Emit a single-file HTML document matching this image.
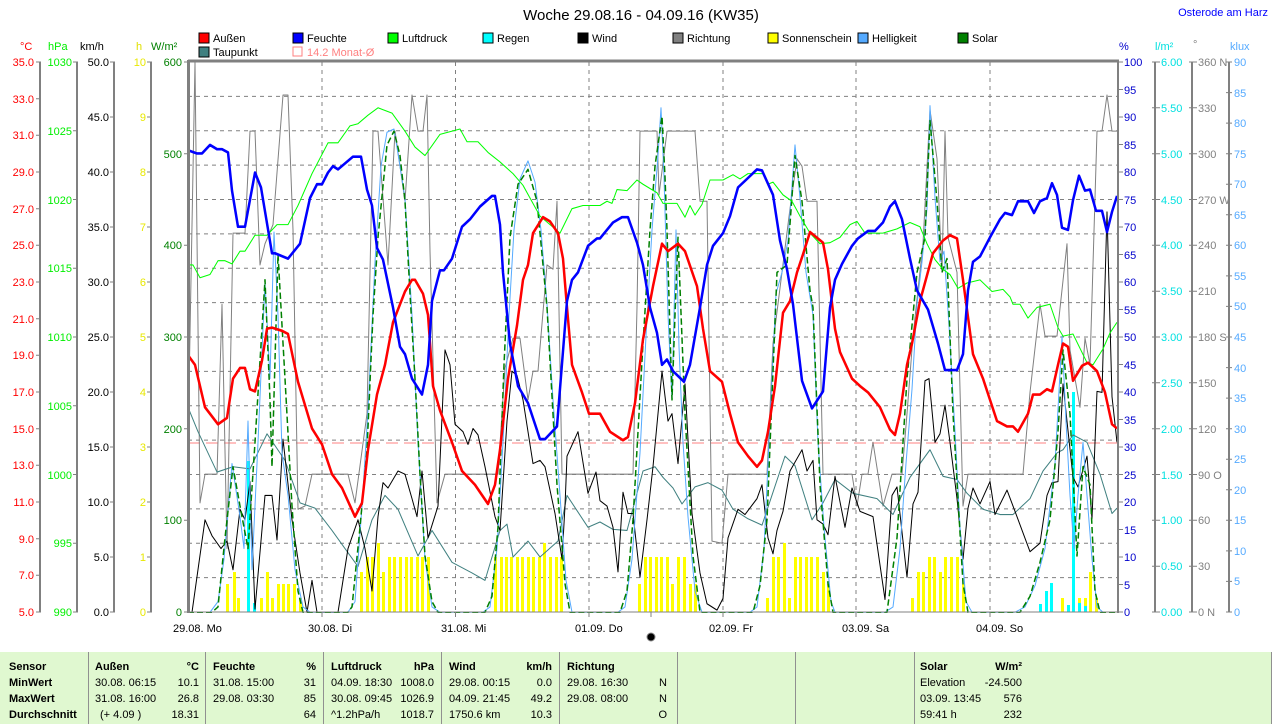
<!DOCTYPE html>
<html><head><meta charset="utf-8"><style>
html,body{margin:0;padding:0;background:#fff;}
svg{display:block;font-family:"Liberation Sans",sans-serif;}
</style></head><body>
<svg width="1274" height="724" viewBox="0 0 1274 724" xmlns="http://www.w3.org/2000/svg">
<defs><clipPath id="pc"><rect x="188" y="62" width="930" height="551"/></clipPath></defs>
<rect width="1274" height="724" fill="#fff"/>
<text x="641" y="20" font-size="15" text-anchor="middle" fill="#000">Woche 29.08.16 - 04.09.16 (KW35)</text>
<text x="1268" y="16" font-size="11" text-anchor="end" fill="#0000ff">Osterode am Harz</text>

<g font-size="11" fill="#000">
<rect x="199" y="33" width="10" height="10" fill="#ff0000" stroke="#000"/><text x="213" y="42">Außen</text>
<rect x="293" y="33" width="10" height="10" fill="#0000ff" stroke="#000"/><text x="307" y="42">Feuchte</text>
<rect x="388" y="33" width="10" height="10" fill="#00ff00" stroke="#000"/><text x="402" y="42">Luftdruck</text>
<rect x="483" y="33" width="10" height="10" fill="#00ffff" stroke="#000"/><text x="497" y="42">Regen</text>
<rect x="578" y="33" width="10" height="10" fill="#000" stroke="#000"/><text x="592" y="42">Wind</text>
<rect x="673" y="33" width="10" height="10" fill="#808080" stroke="#000"/><text x="687" y="42">Richtung</text>
<rect x="768" y="33" width="10" height="10" fill="#ffff00" stroke="#000"/><text x="782" y="42">Sonnenschein</text>
<rect x="858" y="33" width="10" height="10" fill="#55aaff" stroke="#000"/><text x="872" y="42">Helligkeit</text>
<rect x="958" y="33" width="10" height="10" fill="#008000" stroke="#000"/><text x="972" y="42">Solar</text>
<rect x="199" y="47" width="10" height="10" fill="#408080" stroke="#000"/><text x="213" y="56">Taupunkt</text>
<rect x="293" y="47" width="9" height="9" fill="none" stroke="#ff8080"/><text x="307" y="56" fill="#ff8080">14.2 Monat-Ø</text>
</g>

<g font-size="11">
<text x="20" y="50" fill="#ff0000">°C</text>
<text x="48" y="50" fill="#00ee00">hPa</text>
<text x="80" y="50" fill="#000">km/h</text>
<text x="136" y="50" fill="#e0e000">h</text>
<text x="151" y="50" fill="#008000">W/m²</text>
<text x="1119" y="50" fill="#0000cc">%</text>
<text x="1155" y="50" fill="#00e0e0">l/m²</text>
<text x="1193" y="48" fill="#808080">°</text>
<text x="1230" y="50" fill="#55aaff">klux</text>
</g>

<g stroke="#808080" stroke-width="2">
<line x1="40" y1="62" x2="40" y2="612"/>
<line x1="77" y1="62" x2="77" y2="612"/>
<line x1="114" y1="62" x2="114" y2="612"/>
<line x1="151" y1="62" x2="151" y2="612"/>
<line x1="1155" y1="62" x2="1155" y2="612"/>
<line x1="1192" y1="62" x2="1192" y2="612"/>
<line x1="1229" y1="62" x2="1229" y2="612"/>
</g>

<g font-size="11" fill="#ff0000" text-anchor="end">
<text x="34" y="66">35.0</text><text x="34" y="103">33.0</text><text x="34" y="139">31.0</text><text x="34" y="176">29.0</text><text x="34" y="213">27.0</text><text x="34" y="249">25.0</text><text x="34" y="286">23.0</text><text x="34" y="323">21.0</text><text x="34" y="359">19.0</text><text x="34" y="396">17.0</text><text x="34" y="433">15.0</text><text x="34" y="469">13.0</text><text x="34" y="506">11.0</text><text x="34" y="543">9.0</text><text x="34" y="579">7.0</text><text x="34" y="616">5.0</text>
</g>
<g stroke="#808080" stroke-width="1">
<path d="M36 62H41M36 98.7H41M36 135.3H41M36 172H41M36 208.7H41M36 245.3H41M36 282H41M36 318.7H41M36 355.3H41M36 392H41M36 428.7H41M36 465.3H41M36 502H41M36 538.7H41M36 575.3H41M36 612H41"/>
<path d="M73 62H78M73 130.75H78M73 199.5H78M73 268.25H78M73 337H78M73 405.75H78M73 474.5H78M73 543.25H78M73 612H78"/>
<path d="M110 62H115M110 117H115M110 172H115M110 227H115M110 282H115M110 337H115M110 392H115M110 447H115M110 502H115M110 557H115M110 612H115"/>
<path d="M147 62H152M147 117H152M147 172H152M147 227H152M147 282H152M147 337H152M147 392H152M147 447H152M147 502H152M147 557H152M147 612H152"/>
<path d="M184 62H189M184 153.7H189M184 245.3H189M184 337H189M184 428.7H189M184 520.3H189M184 612H189"/>
<path d="M1118 62h5M1118 89.5h5M1118 117h5M1118 144.5h5M1118 172h5M1118 199.5h5M1118 227h5M1118 254.5h5M1118 282h5M1118 309.5h5M1118 337h5M1118 364.5h5M1118 392h5M1118 419.5h5M1118 447h5M1118 474.5h5M1118 502h5M1118 529.5h5M1118 557h5M1118 584.5h5M1118 612h5"/>
<path d="M1152 62h8M1152 107.8h8M1152 153.7h8M1152 199.5h8M1152 245.3h8M1152 291.2h8M1152 337h8M1152 382.8h8M1152 428.7h8M1152 474.5h8M1152 520.3h8M1152 566.2h8M1152 612h8"/>
<path d="M1189 62h8M1189 107.8h8M1189 153.7h8M1189 199.5h8M1189 245.3h8M1189 291.2h8M1189 337h8M1189 382.8h8M1189 428.7h8M1189 474.5h8M1189 520.3h8M1189 566.2h8M1189 612h8"/>
<path d="M1226 62h6M1226 92.6h6M1226 123.1h6M1226 153.7h6M1226 184.2h6M1226 214.8h6M1226 245.3h6M1226 275.9h6M1226 306.4h6M1226 337h6M1226 367.6h6M1226 398.1h6M1226 428.7h6M1226 459.2h6M1226 489.8h6M1226 520.3h6M1226 550.9h6M1226 581.4h6M1226 612h6"/>
</g>
<g font-size="11" fill="#00ee00" text-anchor="end">
<text x="72" y="66">1030</text><text x="72" y="135">1025</text><text x="72" y="204">1020</text><text x="72" y="272">1015</text><text x="72" y="341">1010</text><text x="72" y="410">1005</text><text x="72" y="479">1000</text><text x="72" y="547">995</text><text x="72" y="616">990</text>
</g>
<g font-size="11" fill="#000" text-anchor="end">
<text x="109" y="66">50.0</text><text x="109" y="121">45.0</text><text x="109" y="176">40.0</text><text x="109" y="231">35.0</text><text x="109" y="286">30.0</text><text x="109" y="341">25.0</text><text x="109" y="396">20.0</text><text x="109" y="451">15.0</text><text x="109" y="506">10.0</text><text x="109" y="561">5.0</text><text x="109" y="616">0.0</text>
</g>
<g font-size="11" fill="#e8e800" text-anchor="end">
<text x="146" y="66">10</text><text x="146" y="121">9</text><text x="146" y="176">8</text><text x="146" y="231">7</text><text x="146" y="286">6</text><text x="146" y="341">5</text><text x="146" y="396">4</text><text x="146" y="451">3</text><text x="146" y="506">2</text><text x="146" y="561">1</text><text x="146" y="616">0</text>
</g>
<g font-size="11" fill="#008000" text-anchor="end">
<text x="182" y="66">600</text><text x="182" y="158">500</text><text x="182" y="249">400</text><text x="182" y="341">300</text><text x="182" y="433">200</text><text x="182" y="524">100</text><text x="182" y="616">0</text>
</g>
<g font-size="11" fill="#0000cc">
<text x="1124" y="66">100</text><text x="1124" y="94">95</text><text x="1124" y="121">90</text><text x="1124" y="149">85</text><text x="1124" y="176">80</text><text x="1124" y="204">75</text><text x="1124" y="231">70</text><text x="1124" y="259">65</text><text x="1124" y="286">60</text><text x="1124" y="314">55</text><text x="1124" y="341">50</text><text x="1124" y="369">45</text><text x="1124" y="396">40</text><text x="1124" y="424">35</text><text x="1124" y="451">30</text><text x="1124" y="479">25</text><text x="1124" y="506">20</text><text x="1124" y="534">15</text><text x="1124" y="561">10</text><text x="1124" y="589">5</text><text x="1124" y="616">0</text>
</g>
<g font-size="11" fill="#00e0e0">
<text x="1161" y="66">6.00</text><text x="1161" y="112">5.50</text><text x="1161" y="158">5.00</text><text x="1161" y="204">4.50</text><text x="1161" y="249">4.00</text><text x="1161" y="295">3.50</text><text x="1161" y="341">3.00</text><text x="1161" y="387">2.50</text><text x="1161" y="433">2.00</text><text x="1161" y="479">1.50</text><text x="1161" y="524">1.00</text><text x="1161" y="570">0.50</text><text x="1161" y="616">0.00</text>
</g>
<g font-size="11" fill="#808080">
<text x="1198" y="66">360 N</text><text x="1198" y="112">330</text><text x="1198" y="158">300</text><text x="1198" y="204">270 W</text><text x="1198" y="249">240</text><text x="1198" y="295">210</text><text x="1198" y="341">180 S</text><text x="1198" y="387">150</text><text x="1198" y="433">120</text><text x="1198" y="479">90 O</text><text x="1198" y="524">60</text><text x="1198" y="570">30</text><text x="1198" y="616">0 N</text>
</g>
<g font-size="11" fill="#55aaff">
<text x="1234" y="66">90</text><text x="1234" y="97">85</text><text x="1234" y="127">80</text><text x="1234" y="158">75</text><text x="1234" y="188">70</text><text x="1234" y="219">65</text><text x="1234" y="249">60</text><text x="1234" y="280">55</text><text x="1234" y="310">50</text><text x="1234" y="341">45</text><text x="1234" y="372">40</text><text x="1234" y="402">35</text><text x="1234" y="433">30</text><text x="1234" y="463">25</text><text x="1234" y="494">20</text><text x="1234" y="524">15</text><text x="1234" y="555">10</text><text x="1234" y="585">5</text><text x="1234" y="616">0</text>
</g>

<g stroke="#808080" stroke-width="1" stroke-dasharray="4,4">
<path d="M188 96.4H1118M188 130.75H1118M188 165.1H1118M188 199.5H1118M188 233.9H1118M188 268.25H1118M188 302.6H1118M188 337H1118M188 371.4H1118M188 405.75H1118M188 440.1H1118M188 474.5H1118M188 508.9H1118M188 543.25H1118M188 577.6H1118"/>
<path d="M322 62V612M455.5 62V612M589 62V612M723 62V612M856 62V612M990 62V612"/>
</g>
<line x1="188" y1="443" x2="1118" y2="443" stroke="#ff8080" stroke-width="1" stroke-dasharray="12,6"/>

<g fill="#ffff00">
<rect x="226" y="584" width="3" height="28"/><rect x="233" y="572" width="3" height="40"/><rect x="237" y="598" width="3" height="14"/><rect x="260" y="598" width="3" height="14"/><rect x="266" y="572" width="3" height="40"/><rect x="271" y="598" width="3" height="14"/><rect x="277" y="584" width="3" height="28"/><rect x="282" y="584" width="3" height="28"/><rect x="287" y="584" width="3" height="28"/><rect x="293" y="584" width="3" height="28"/><rect x="299" y="598" width="3" height="14"/>
<rect x="360" y="572" width="3" height="40"/><rect x="366" y="557" width="3" height="55"/><rect x="371" y="557" width="3" height="55"/><rect x="377" y="543" width="3" height="69"/><rect x="382" y="572" width="3" height="40"/><rect x="388" y="557" width="3" height="55"/><rect x="393" y="557" width="3" height="55"/><rect x="399" y="557" width="3" height="55"/><rect x="405" y="557" width="3" height="55"/><rect x="410" y="557" width="3" height="55"/><rect x="416" y="557" width="3" height="55"/><rect x="421" y="557" width="3" height="55"/><rect x="427" y="557" width="3" height="55"/>
<rect x="494" y="557" width="3" height="55"/><rect x="500" y="557" width="3" height="55"/><rect x="505" y="557" width="3" height="55"/><rect x="510" y="557" width="3" height="55"/><rect x="516" y="557" width="3" height="55"/><rect x="521" y="557" width="3" height="55"/><rect x="527" y="557" width="3" height="55"/><rect x="532" y="557" width="3" height="55"/><rect x="538" y="557" width="3" height="55"/><rect x="543" y="543" width="3" height="69"/><rect x="549" y="557" width="3" height="55"/><rect x="555" y="557" width="3" height="55"/><rect x="560" y="557" width="3" height="55"/>
<rect x="638" y="584" width="3" height="28"/><rect x="644" y="557" width="3" height="55"/><rect x="649" y="557" width="3" height="55"/><rect x="655" y="557" width="3" height="55"/><rect x="660" y="557" width="3" height="55"/><rect x="666" y="557" width="3" height="55"/><rect x="671" y="584" width="3" height="28"/><rect x="677" y="557" width="3" height="55"/><rect x="683" y="557" width="3" height="55"/><rect x="689" y="584" width="3" height="28"/><rect x="694" y="584" width="3" height="28"/>
<rect x="766" y="598" width="3" height="14"/><rect x="772" y="557" width="3" height="55"/><rect x="777" y="557" width="3" height="55"/><rect x="783" y="543" width="3" height="69"/><rect x="788" y="598" width="3" height="14"/><rect x="794" y="557" width="3" height="55"/><rect x="799" y="557" width="3" height="55"/><rect x="805" y="557" width="3" height="55"/><rect x="810" y="557" width="3" height="55"/><rect x="816" y="557" width="3" height="55"/><rect x="822" y="572" width="3" height="40"/><rect x="827" y="584" width="3" height="28"/>
<rect x="911" y="598" width="3" height="14"/><rect x="917" y="572" width="3" height="40"/><rect x="922" y="572" width="3" height="40"/><rect x="928" y="557" width="3" height="55"/><rect x="933" y="557" width="3" height="55"/><rect x="939" y="572" width="3" height="40"/><rect x="944" y="557" width="3" height="55"/><rect x="950" y="557" width="3" height="55"/><rect x="956" y="557" width="3" height="55"/><rect x="962" y="584" width="3" height="28"/>
<rect x="1061" y="598" width="3" height="14"/><rect x="1078" y="598" width="3" height="14"/><rect x="1084" y="598" width="3" height="14"/><rect x="1089" y="572" width="3" height="40"/><rect x="1095" y="598" width="3" height="14"/>
</g>
<g fill="#00ffff">
<rect x="247" y="461" width="3" height="151"/><rect x="253" y="603" width="3" height="9"/>
<rect x="1039" y="604" width="3" height="8"/><rect x="1045" y="591" width="3" height="21"/><rect x="1050" y="583" width="3" height="29"/><rect x="1067" y="605" width="3" height="7"/><rect x="1072" y="392" width="3" height="220"/><rect x="1078" y="603" width="3" height="9"/><rect x="1084" y="606" width="3" height="6"/>
</g>

<g clip-path="url(#pc)">
<g fill="none" stroke-linejoin="round" transform="matrix(1 0 0 1.062 0 -3.72)">
<polyline stroke="#808080" stroke-width="1" points="188,420 195,62 200,477 205,450 217,450 222,290 227,520 233,223 245,223 250,127 255,127 260,253 265,233 273,215 283,93 288,93 293,220 298,483 305,480 312,450 338,450 348,450 355,477 367,393 373,127 378,127 388,253 395,127 405,193 412,93 418,127 423,127 427,93 430,240 437,477 445,450 498,450 505,350 513,322 520,322 528,380 533,353 538,353 547,253 553,257 557,193 562,450 633,450 637,293 640,127 657,127 659,187 667,127 695,127 700,193 707,193 712,513 722,515 728,450 767,450 773,327 790,200 797,153 802,160 807,193 817,193 823,450 852,450 857,480 862,450 868,450 873,420 883,480 892,450 902,450 907,393 913,320 923,233 930,107 937,153 942,260 945,127 948,227 957,260 963,480 968,450 1023,450 1030,373 1040,290 1045,320 1057,320 1067,233 1070,333 1080,387 1085,322 1090,347 1097,127 1102,127 1107,93 1112,127 1117,127"/>
<polyline stroke="#408080" stroke-width="1" points="188,387 198,410 217,448 233,443 250,445 267,412 285,437 300,477 315,482 332,503 345,520 358,537 372,493 385,470 398,483 418,527 432,503 452,533 472,543 485,550 500,503 507,497 513,528 528,513 540,528 558,513 567,470 588,500 600,495 613,502 627,503 643,447 655,443 663,453 673,463 682,478 695,462 708,458 722,465 733,483 748,492 762,498 773,467 785,433 795,442 812,493 823,477 835,455 853,468 877,473 893,488 910,453 930,427 943,452 957,455 967,468 983,483 1000,488 1013,488 1030,473 1043,447 1057,430 1063,427 1073,413 1087,420 1100,450 1112,487 1117,482"/>
<polyline stroke="#000" stroke-width="1" points="188,580 192,580 205,493 212,508 221,520 227,513 233,540 240,483 245,493 250,457 255,577 265,470 272,470 277,512 283,417 292,493 300,543 307,580 312,550 317,580 338,580 348,520 358,493 365,520 372,560 378,490 383,458 388,463 398,447 405,450 412,473 417,490 422,447 428,510 438,480 445,333 450,347 455,403 463,410 468,422 473,407 478,413 485,443 495,490 500,503 507,400 512,353 517,357 523,380 533,440 540,437 545,443 555,487 562,530 565,480 567,433 578,410 588,468 596,448 600,475 607,480 613,500 618,542 623,467 628,487 633,487 640,547 647,493 653,443 662,353 668,400 672,393 678,440 685,365 692,487 700,543 707,572 717,578 723,567 728,510 738,483 745,488 757,473 762,460 768,510 773,525 777,503 783,485 790,447 802,427 807,447 813,437 817,493 823,497 828,507 835,452 845,500 852,463 860,485 873,490 885,568 892,470 897,462 907,547 913,478 918,467 925,362 929,360 935,420 940,412 945,385 950,420 957,473 963,530 968,482 973,463 980,478 990,457 995,488 1007,465 1017,490 1030,523 1040,515 1047,470 1052,458 1058,457 1063,365 1073,453 1078,462 1087,433 1092,492 1097,372 1102,373 1107,203 1112,377 1117,420"/>
<polyline stroke="#55aaff" stroke-width="1" points="210,580 218,570 224,530 232,440 240,490 244,520 248,400 252,540 258,420 265,270 270,360 274,222 278,300 282,430 288,470 295,540 303,575 310,580 348,580 355,570 362,480 368,390 375,250 381,160 387,128 394,125 400,160 405,190 412,300 418,420 425,530 432,575 440,580 483,580 490,575 497,520 503,420 509,300 514,220 520,172 528,155 535,175 541,220 547,290 553,380 560,470 566,550 572,580 618,580 625,575 632,530 640,430 646,320 652,220 658,150 661,105 664,170 668,300 672,380 676,220 679,330 683,420 688,490 695,560 702,580 750,580 757,575 764,520 770,400 776,280 782,260 788,230 795,140 800,190 806,260 813,300 818,420 824,500 831,570 835,580 885,580 893,575 900,520 906,440 912,370 917,290 922,250 927,200 930,103 935,190 940,250 944,240 949,310 955,410 960,500 966,570 972,580 1015,580 1025,575 1035,555 1045,520 1055,440 1062,320 1066,400 1070,470 1074,520 1078,470 1083,420 1087,470 1092,530 1097,575 1103,580"/>
<polyline stroke="#008000" stroke-width="1.5" stroke-dasharray="6,3" points="188,580 212,580 218,575 225,510 233,443 240,480 248,520 255,420 265,267 270,380 272,443 278,243 285,360 292,480 298,560 303,580 348,580 352,575 360,500 367,427 373,300 378,227 387,140 394,127 400,150 405,193 410,280 415,360 420,450 425,527 432,570 438,580 485,580 492,565 498,500 504,347 510,227 518,177 528,163 537,193 547,293 557,460 565,553 570,580 620,580 627,560 633,493 643,327 650,220 655,160 662,113 665,170 667,220 672,380 675,300 678,227 685,393 693,527 700,580 753,580 760,555 767,493 777,260 787,253 795,150 802,193 810,277 813,293 820,460 828,553 833,580 887,580 897,510 907,360 917,260 925,227 930,117 937,193 942,260 947,247 953,393 963,553 968,580 1020,580 1030,565 1040,533 1050,493 1058,410 1063,333 1070,393 1077,527 1083,443 1090,460 1095,560 1100,580 1118,580"/>
<polyline stroke="#00ff00" stroke-width="1" points="188,253 193,253 200,265 210,262 218,249 225,249 232,252 240,240 245,240 255,225 267,225 277,215 288,215 298,197 312,167 328,138 338,138 350,122 358,120 368,112 378,105 392,110 405,127 415,142 425,150 440,130 460,125 467,137 478,137 488,147 500,156 513,167 523,178 540,207 550,215 560,223 572,200 583,197 600,197 607,193 612,195 617,182 627,183 637,173 643,177 657,185 663,195 677,195 685,208 690,197 695,206 702,196 710,173 723,173 733,168 740,172 748,167 763,167 768,177 773,175 783,187 792,193 800,207 810,223 820,233 830,232 840,227 850,215 857,212 865,223 883,223 897,219 910,213 920,217 927,233 935,248 943,257 950,262 958,275 967,270 980,267 992,278 1003,276 1010,283 1013,290 1020,290 1028,303 1037,293 1050,290 1058,312 1063,320 1073,318 1087,345 1093,347 1103,332 1110,317 1117,307"/>
<polyline stroke="#ff0000" stroke-width="2.5" points="188,338 195,347 205,387 218,403 227,397 233,360 240,350 245,350 250,370 255,372 262,343 267,313 272,312 282,315 288,318 298,363 312,407 322,422 332,450 342,463 355,490 362,477 368,427 377,375 385,347 393,307 405,278 412,267 415,267 423,280 428,300 433,367 440,390 452,420 462,447 475,460 488,478 495,460 500,427 508,360 517,310 523,267 528,253 533,223 543,208 550,212 558,223 563,247 567,293 572,347 582,373 589,393 600,393 610,410 623,418 628,415 635,383 643,323 653,273 662,233 668,240 678,233 685,240 697,273 703,313 710,353 722,363 730,393 738,420 748,433 757,443 762,437 768,410 775,367 783,298 790,287 797,260 803,243 810,222 823,232 828,257 835,313 840,335 852,360 860,367 868,373 880,387 890,408 895,413 900,393 907,347 912,327 920,287 933,242 943,230 950,225 957,228 963,267 973,337 983,360 997,400 1007,405 1013,405 1018,410 1028,393 1033,375 1040,375 1047,370 1052,372 1058,347 1063,327 1068,330 1073,362 1082,348 1088,345 1097,353 1105,373 1112,403 1117,407"/>
<polyline stroke="#0000ff" stroke-width="2.5" points="188,145 197,148 202,148 210,140 217,144 222,144 228,147 232,183 238,217 245,217 255,166 261,180 272,242 275,242 288,247 300,233 310,190 317,177 322,177 328,166 333,160 338,163 353,151 361,151 367,182 372,197 377,237 383,248 393,293 400,330 405,337 412,360 422,375 428,347 432,287 440,258 444,258 452,247 462,217 470,210 480,198 492,188 495,188 500,215 503,260 510,327 518,367 528,383 540,417 545,417 557,405 567,287 572,267 578,260 588,235 597,228 600,228 613,213 622,208 628,208 637,232 643,253 650,293 657,317 662,347 667,342 673,353 684,363 690,347 700,293 707,253 713,235 723,223 730,207 738,180 747,172 757,163 762,164 773,187 780,230 787,257 793,290 802,362 812,388 823,372 830,293 835,267 842,252 852,235 858,228 868,221 875,221 883,213 890,198 895,193 902,210 910,247 917,277 928,295 938,327 945,352 957,352 963,337 968,277 973,250 980,245 990,227 1000,210 1005,204 1012,206 1018,193 1028,193 1034,204 1040,193 1047,190 1052,176 1057,187 1062,218 1068,220 1073,192 1079,169 1085,183 1090,182 1096,202 1102,202 1107,222 1112,203 1117,188"/>
</g>
</g>

<g stroke="#808080">
<line x1="188" y1="61" x2="1119" y2="61" stroke-width="3"/>
<line x1="188.5" y1="60" x2="188.5" y2="613" stroke-width="3"/>
<line x1="1118" y1="60" x2="1118" y2="613" stroke-width="2"/>
<line x1="188" y1="612" x2="1118" y2="612" stroke-width="1"/>
<path d="M322 612v5M455.5 612v5M589 612v5M723 612v5M856 612v5M990 612v5M651 612v5" stroke-width="1"/>
</g>
<g font-size="11" fill="#000">
<text x="173" y="632">29.08.  Mo</text>
<text x="308" y="632">30.08.  Di</text>
<text x="441" y="632">31.08.  Mi</text>
<text x="575" y="632">01.09.  Do</text>
<text x="709" y="632">02.09.  Fr</text>
<text x="842" y="632">03.09.  Sa</text>
<text x="976" y="632">04.09.  So</text>
</g>
<circle cx="651" cy="637" r="4" fill="#000" stroke="#888" stroke-width="1"/>

<rect x="0" y="652" width="1271" height="72" fill="#e0f8d0"/>
<g stroke="#909090" stroke-width="1">
<path d="M88.5 652V724M205.5 652V724M323.5 652V724M441.5 652V724M559.5 652V724M677.5 652V724M795.5 652V724M914.5 652V724M1271.5 652V724"/>
</g>
<g font-size="11" fill="#000">
<g font-weight="bold">
<text x="9" y="670">Sensor</text><text x="9" y="686">MinWert</text><text x="9" y="702">MaxWert</text><text x="9" y="718">Durchschnitt</text>
<text x="95" y="670">Außen</text><text x="199" y="670" text-anchor="end">°C</text>
<text x="213" y="670">Feuchte</text><text x="316" y="670" text-anchor="end">%</text>
<text x="331" y="670">Luftdruck</text><text x="434" y="670" text-anchor="end">hPa</text>
<text x="449" y="670">Wind</text><text x="552" y="670" text-anchor="end">km/h</text>
<text x="567" y="670">Richtung</text>
<text x="920" y="670">Solar</text><text x="1022" y="670" text-anchor="end">W/m²</text>
</g>
<text x="95" y="686">30.08.  06:15</text><text x="199" y="686" text-anchor="end">10.1</text>
<text x="95" y="702">31.08.  16:00</text><text x="199" y="702" text-anchor="end">26.8</text>
<text x="100" y="718">(+ 4.09 )</text><text x="199" y="718" text-anchor="end">18.31</text>
<text x="213" y="686">31.08.  15:00</text><text x="316" y="686" text-anchor="end">31</text>
<text x="213" y="702">29.08.  03:30</text><text x="316" y="702" text-anchor="end">85</text>
<text x="316" y="718" text-anchor="end">64</text>
<text x="331" y="686">04.09.  18:30</text><text x="434" y="686" text-anchor="end">1008.0</text>
<text x="331" y="702">30.08.  09:45</text><text x="434" y="702" text-anchor="end">1026.9</text>
<text x="331" y="718">^1.2hPa/h</text><text x="434" y="718" text-anchor="end">1018.7</text>
<text x="449" y="686">29.08.  00:15</text><text x="552" y="686" text-anchor="end">0.0</text>
<text x="449" y="702">04.09.  21:45</text><text x="552" y="702" text-anchor="end">49.2</text>
<text x="449" y="718">1750.6 km</text><text x="552" y="718" text-anchor="end">10.3</text>
<text x="567" y="686">29.08.  16:30</text><text x="667" y="686" text-anchor="end">N</text>
<text x="567" y="702">29.08.  08:00</text><text x="667" y="702" text-anchor="end">N</text>
<text x="667" y="718" text-anchor="end">O</text>
<text x="920" y="686">Elevation</text><text x="1022" y="686" text-anchor="end">-24.500</text>
<text x="920" y="702">03.09.  13:45</text><text x="1022" y="702" text-anchor="end">576</text>
<text x="920" y="718">59:41 h</text><text x="1022" y="718" text-anchor="end">232</text>
</g>
</svg>
</body></html>
